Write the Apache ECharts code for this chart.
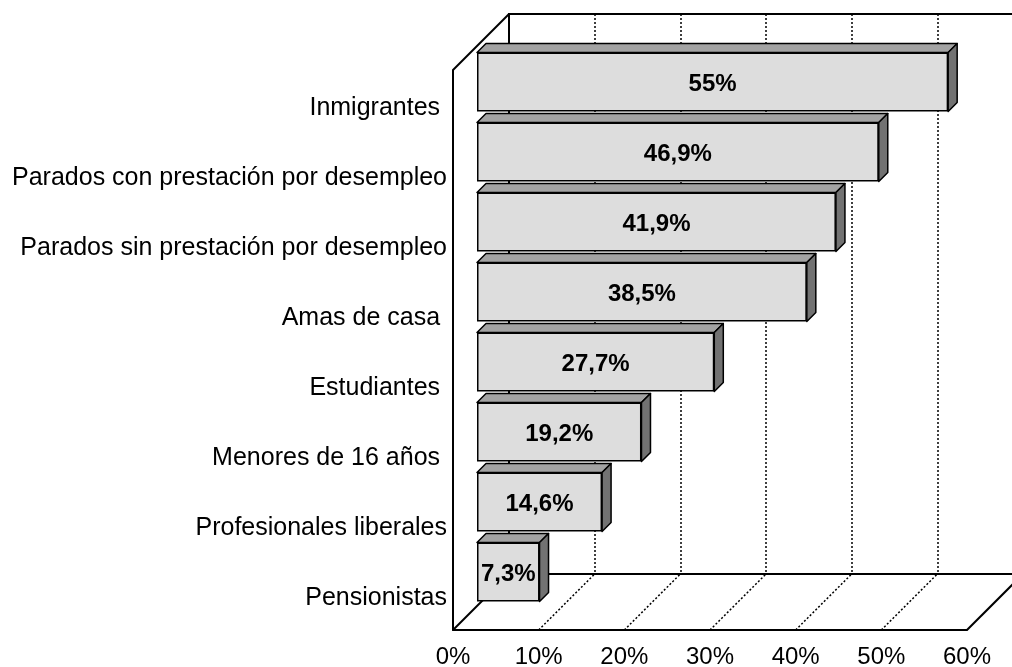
<!DOCTYPE html>
<html lang="es">
<head>
    <meta charset="UTF-8">
    <title>Grafico</title>
    <script src="https://cdn.jsdelivr.net/npm/echarts@6/dist/echarts.min.js"></script>
    <style>
        html, body { margin: 0; padding: 0; background: #fff; }
        #main { width: 1012px; height: 667px; }
    </style>
</head>
<body>
    <div id="main"></div>
    <script>
        // datos
        var categorias = ['Inmigrantes ', 'Parados con prestación por desempleo', 'Parados sin prestación por desempleo',
            'Amas de casa ', 'Estudiantes ', 'Menores de 16 años ', 'Profesionales liberales', 'Pensionistas'];
        var valores = [55, 46.9, 41.9, 38.5, 27.7, 19.2, 14.6, 7.3];
        var ticks = [0, 10, 20, 30, 40, 50, 60];

        var FONT = 'Liberation Sans, Arial, sans-serif';
        var PROF = 56;   // profundidad del suelo/paredes
        var PB = 9;      // profundidad de las barras
        var ALTO = 59;   // alto de la barra

        var mychart = echarts.init(document.getElementById('main'));

        var datosBarra = [];
        for (var i = 0; i < valores.length; i++) {
            datosBarra.push([valores[i], i]);
        }
        var datosTicks = [];
        for (var j = 0; j < ticks.length; j++) {
            datosTicks.push([ticks[j], 0]);
        }

        var linea = { color: '#000', width: 2 };

        var options = {
            animation: false,
            textStyle: { fontFamily: FONT },
            grid: [
                // plano frontal (suelo y etiquetas)
                { left: 453, top: 70, width: 514, height: 560, outerBoundsMode: 'none' },
                // plano de las barras
                { left: 477, top: 47, width: 514, height: 560, outerBoundsMode: 'none' },
                // pared del fondo
                { left: 509, top: 14, width: 514, height: 560, outerBoundsMode: 'none',
                  show: true, borderColor: '#000', borderWidth: 2, backgroundColor: 'transparent' }
            ],
            xAxis: [
                { gridIndex: 0, type: 'value', min: 0, max: 60, interval: 10,
                  axisLine: { show: true, lineStyle: linea },
                  axisTick: { show: false }, splitLine: { show: false },
                  axisLabel: { formatter: '{value}%', fontSize: 24, color: '#000', margin: 15, fontFamily: FONT } },
                { gridIndex: 1, type: 'value', min: 0, max: 60, show: false },
                { gridIndex: 2, type: 'value', min: 0, max: 60, interval: 10,
                  axisLine: { show: false }, axisTick: { show: false }, axisLabel: { show: false },
                  splitLine: { show: true, lineStyle: { color: '#000', width: 1.5, type: [2, 2] } } }
            ],
            yAxis: [
                { gridIndex: 0, type: 'category', inverse: true, data: categorias,
                  axisLine: { show: true, lineStyle: linea }, axisTick: { show: false },
                  axisLabel: {
                      margin: 6,
                      formatter: function (v) { return '{t|' + v + '}'; },
                      rich: { t: { fontSize: 25, color: '#000', fontFamily: FONT, padding: [6, 0, 0, 0] } }
                  } },
                { gridIndex: 1, type: 'category', inverse: true, data: categorias, show: false },
                { gridIndex: 2, type: 'category', inverse: true, data: categorias, show: false }
            ],
            series: [
                // lineas de profundidad del suelo y pared izquierda
                {
                    type: 'custom',
                    xAxisIndex: 0, yAxisIndex: 0,
                    data: datosTicks,
                    encode: { x: 0, y: 1 },
                    z: 1,
                    silent: true,
                    renderItem: function (params, api) {
                        var v = api.value(0);
                        var cs = params.coordSys;
                        var x = api.coord([v, 0])[0];
                        var abajo = cs.y + cs.height;
                        var borde = (v === 0 || v === 60);
                        var hijos = [{
                            type: 'line',
                            shape: { x1: x, y1: abajo, x2: x + PROF, y2: abajo - PROF },
                            style: { stroke: '#000', lineWidth: borde ? 2 : 1.5, lineDash: borde ? null : [2, 2] }
                        }];
                        if (v === 0) {
                            hijos.push({
                                type: 'line',
                                shape: { x1: cs.x, y1: cs.y, x2: cs.x + PROF, y2: cs.y - PROF },
                                style: { stroke: '#000', lineWidth: 2 }
                            });
                        }
                        return { type: 'group', children: hijos };
                    }
                },
                // cara frontal de las barras
                {
                    type: 'bar',
                    xAxisIndex: 1, yAxisIndex: 1,
                    data: valores,
                    barWidth: ALTO,
                    z: 4,
                    itemStyle: { color: '#dddddd', borderColor: '#000', borderWidth: 1.5 },
                    label: {
                        show: true, position: 'inside',
                        formatter: function (p) { return '{e|' + String(p.value).replace('.', ',') + '%}'; },
                        rich: { e: { color: '#000', fontWeight: 'bold', fontSize: 24, fontFamily: FONT, padding: [5, 0, 0, 0] } }
                    }
                },
                // caras superior y lateral
                {
                    type: 'custom',
                    xAxisIndex: 1, yAxisIndex: 1,
                    data: datosBarra,
                    encode: { x: 0, y: 1 },
                    z: 3,
                    silent: true,
                    renderItem: function (params, api) {
                        var c = api.value(1);
                        var ini = api.coord([0, c]);
                        var fin = api.coord([api.value(0), c]);
                        var x0 = ini[0], x1 = fin[0];
                        var y0 = ini[1] - ALTO / 2, y1 = ini[1] + ALTO / 2;
                        var trazo = { stroke: '#000', lineWidth: 1.5, lineJoin: 'round' };
                        return {
                            type: 'group',
                            children: [
                                { type: 'polygon',
                                  shape: { points: [[x0, y0], [x0 + PB, y0 - PB], [x1 + PB, y0 - PB], [x1, y0]] },
                                  style: Object.assign({ fill: '#a3a3a3' }, trazo) },
                                { type: 'polygon',
                                  shape: { points: [[x1, y0], [x1 + PB, y0 - PB], [x1 + PB, y1 - PB], [x1, y1]] },
                                  style: Object.assign({ fill: '#727272' }, trazo) }
                            ]
                        };
                    }
                }
            ]
        };

        mychart.setOption(options);
    </script>
</body>
</html>
